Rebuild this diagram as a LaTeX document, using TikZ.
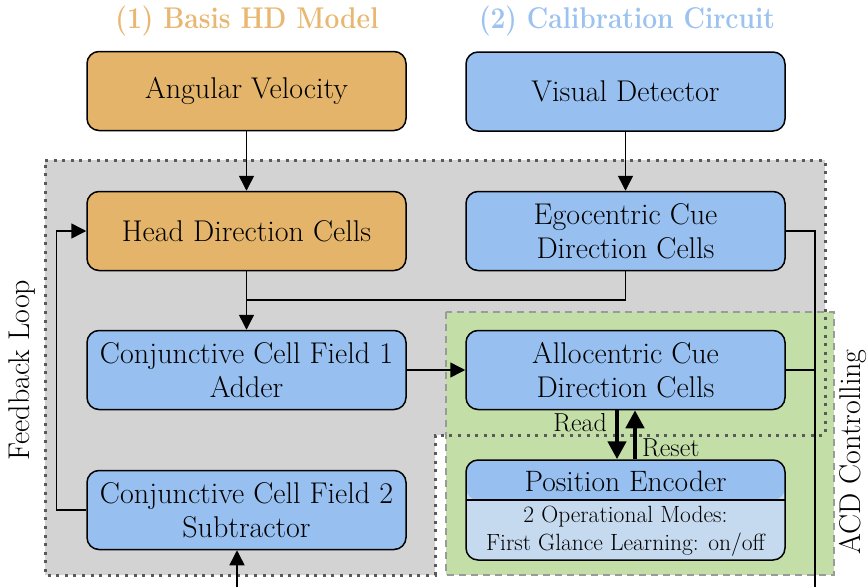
\documentclass[tikz,border=0pt]{standalone}
\usepackage{fontspec}
\usetikzlibrary{arrows.meta}
\definecolor{hdorange}{HTML}{E3B469}
\definecolor{titleorange}{HTML}{E8B873}
\definecolor{cueblue}{HTML}{97C0F0}
\definecolor{titleblue}{HTML}{9CC3F0}
\definecolor{modeblue}{HTML}{C6DAEF}
\definecolor{loopgray}{HTML}{D3D3D3}
\definecolor{acdgreen}{HTML}{C3DFA7}
\definecolor{dotgray}{HTML}{5A5A5A}
\definecolor{dashgray}{HTML}{9A9A9A}
\begin{document}
\begin{tikzpicture}[x=1pt,y=-1pt,
  box/.style={draw=black, line width=1.5pt, rounded corners=12pt, minimum width=319pt,
    minimum height=79pt, align=center, inner sep=0pt, font=\fontsize{30}{34}\selectfont},
  hdbox/.style={box, fill=hdorange},
  cuebox/.style={box, fill=cueblue},
  conn/.style={line width=1.5pt, -{Triangle[length=15pt,width=15pt]}},
  wire/.style={line width=1.5pt},
  fatarrow/.style={line width=4.5pt, -{Triangle[length=18pt,width=18pt]}},
  lbl/.style={font=\fontsize{30}{34}\selectfont, inner sep=0pt},
  smalllbl/.style={font=\fontsize{23.5}{28}\selectfont, inner sep=0pt},
  title/.style={font=\fontsize{30}{34}\selectfont\bfseries, inner sep=0pt, xscale=0.88}]
\useasboundingbox (0,0) rectangle (868,587);
% regions
\fill[loopgray] (45,160) -- (825,160) -- (825,435) -- (435,435) -- (435,575) -- (45,575) -- cycle;
\fill[acdgreen] (446,312) rectangle (834,575);
\draw[dashgray, line width=1.5pt, dash pattern=on 7pt off 5pt] (446,312) rectangle (834,575);
\draw[dotgray, line width=3pt, dash pattern=on 3pt off 5.6pt] (45,160) -- (825,160) -- (825,435) -- (435,435) -- (435,575) -- (45,575) -- cycle;
% titles
\node[title, text=titleorange] (t1) at (247,21) {(1) Basis HD Model};
\node[title, text=titleblue] (t2) at (627,21) {(2) Calibration Circuit};
% nodes
\node[hdbox] (av) at (246.5,91) {Angular Velocity};
\node[cuebox] (vd) at (625.5,91.5) {Visual Detector};
\node[hdbox] (hdc) at (246.5,231) {Head Direction Cells};
\node[cuebox] (ecdc) at (625.5,231) {Egocentric Cue\\Direction Cells};
\node[cuebox] (ccf1) at (246.5,370) {Conjunctive Cell Field 1\\Adder};
\node[cuebox] (acdc) at (625.5,370) {Allocentric Cue\\Direction Cells};
\node[cuebox] (ccf2) at (246.5,510) {Conjunctive Cell Field 2\\Subtractor};
\node[box, fill=modeblue, minimum height=100pt,
  path picture={\fill[cueblue] (path picture bounding box.north west) rectangle ([yshift=-40pt]path picture bounding box.north east);
    \draw[line width=1.5pt] ([yshift=-40pt]path picture bounding box.north west) -- ([yshift=-40pt]path picture bounding box.north east);}]
  (pe) at (625.5,510) {};
\node[lbl, font=\fontsize{29.5}{34}\selectfont] (petitle) at (625.5,481) {Position Encoder};
\node[smalllbl, align=center] (pemodes) at (625.5,531) {2 Operational Modes:\\First Glance Learning: on/off};
% side labels
\node[lbl, rotate=90] (fb) at (22,370) {Feedback Loop};
\node[lbl, rotate=90] (acd) at (853,452) {ACD Controlling};
% coordinates
\coordinate (join) at (246.5,300);
\coordinate (railbot) at (815,587);
\coordinate (inbot) at (237,587);
% connectors
\draw[conn] (av) -- (hdc);
\draw[conn] (vd) -- (ecdc);
\draw[conn] (hdc) -- (ccf1);
\draw[wire] (ecdc.south) |- (join);
\draw[conn] (ccf1) -- (acdc);
\draw[wire] (ecdc.east) -| (railbot);
\draw[wire] (acdc.east) -- (acdc.east -| railbot);
\draw[conn] (ccf2.west) -- ++(-30,0) |- (hdc.west);
\draw[conn] (inbot) -- (ccf2.south -| inbot);
\draw[fatarrow] ([xshift=-8.5pt]acdc.south) -- ([xshift=-8.5pt]pe.north);
\draw[fatarrow] ([xshift=9.5pt]pe.north) -- ([xshift=9.5pt]acdc.south);
\node[lbl, anchor=east, font=\fontsize{26}{30}\selectfont] (readlbl) at (607,423) {Read};
\node[lbl, anchor=west, font=\fontsize{26}{30}\selectfont] (resetlbl) at (642,448) {Reset};
\end{tikzpicture}
\end{document}
